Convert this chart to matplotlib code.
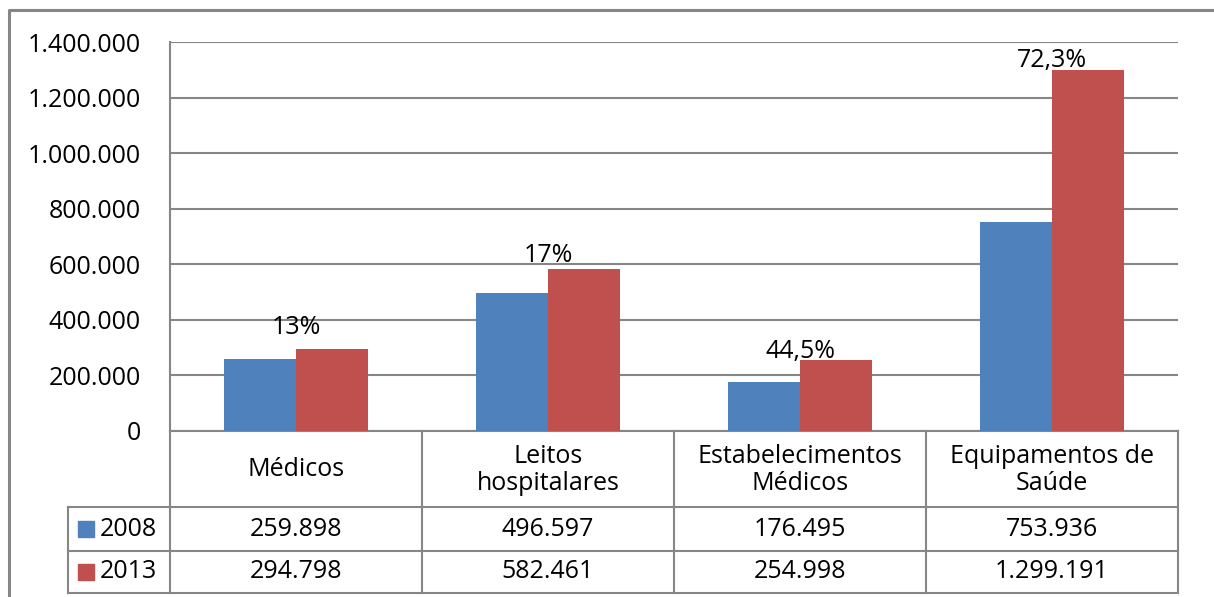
import matplotlib
matplotlib.use("Agg")
import matplotlib.pyplot as plt
from matplotlib.lines import Line2D
from matplotlib.patches import Rectangle

categories = ["Médicos", "Leitos\nhospitalares", "Estabelecimentos\nMédicos", "Equipamentos de\nSaúde"]
series_names = ["2008", "2013"]
values_2008 = [259898, 496597, 176495, 753936]
values_2013 = [294798, 582461, 254998, 1299191]
table_2008 = ["259.898", "496.597", "176.495", "753.936"]
table_2013 = ["294.798", "582.461", "254.998", "1.299.191"]
growth_labels = ["13%", "17%", "44,5%", "72,3%"]
yticks = [0, 200000, 400000, 600000, 800000, 1000000, 1200000, 1400000]
ytick_labels = ["0", "200.000", "400.000", "600.000", "800.000", "1.000.000", "1.200.000", "1.400.000"]

# layout: gap (pixels) between each growth label baseline and its bar top
label_gaps_px = [15, 7, 2, 3]

BLUE = "#4F81BD"
RED = "#C0504D"
GRID = "#868686"
FONT = "Open Sans"
FS = 18

W, H = 1214, 597
fig = plt.figure(figsize=(W / 100, H / 100), dpi=100)

bg = fig.add_axes([0, 0, 1, 1], zorder=0)
bg.set_xlim(0, W)
bg.set_ylim(H, 0)
bg.axis("off")

bg.add_line(Line2D([9, 9, W + 5], [H + 5, 10, 10], color=GRID, lw=2.2))

px0, px1 = 170, 1178
py_top, py0 = 42, 431

ax = fig.add_axes([px0 / W, (H - py0) / H, (px1 - px0) / W, (py0 - py_top) / H], zorder=1)
ax.patch.set_alpha(0)
n = len(categories)
xs = list(range(n))
bw = 72 / 252
ax.bar([x - bw / 2 for x in xs], values_2008, width=bw, color=BLUE, zorder=3)
ax.bar([x + bw / 2 for x in xs], values_2013, width=bw, color=RED, zorder=3)
ax.set_xlim(-0.5, n - 0.5)
ax.set_ylim(0, 1400000)
ax.set_yticks(yticks)
ax.set_yticklabels(ytick_labels, fontsize=FS, family=FONT)
ax.tick_params(axis="y", length=0, pad=21)
ax.set_xticks([])
for s in ["top", "right", "bottom"]:
    ax.spines[s].set_visible(False)
ax.spines["left"].set_color(GRID)
ax.spines["left"].set_linewidth(1.5)
ax.yaxis.grid(True, color=GRID, lw=1.5, zorder=0)
ax.set_axisbelow(True)

for x, v, t, g in zip(xs, values_2013, growth_labels, label_gaps_px):
    ax.annotate(t, (x, v), xytext=(0, g * 0.72), textcoords="offset points",
                ha="center", va="baseline", fontsize=FS, family=FONT, color="black", zorder=4)

col_edges = [px0 + i * (px1 - px0) / n for i in range(n + 1)]
tx0 = 68
row_y = [431, 507, 551, 593]
lc = GRID
lw = 1.5
bg.add_line(Line2D([px0, px1], [row_y[0], row_y[0]], color=lc, lw=lw))
for ry in row_y[1:]:
    bg.add_line(Line2D([tx0, px1], [ry, ry], color=lc, lw=lw))
bg.add_line(Line2D([tx0, tx0], [row_y[1], row_y[3]], color=lc, lw=lw))
for xe in col_edges:
    bg.add_line(Line2D([xe, xe], [row_y[0], row_y[3]], color=lc, lw=lw))

for i, c in enumerate(categories):
    cx = (col_edges[i] + col_edges[i + 1]) / 2
    bg.text(cx, (row_y[0] + row_y[1]) / 2 + 1, c, ha="center", va="center",
            fontsize=FS, family=FONT, linespacing=1.15)
    bg.text(cx, (row_y[1] + row_y[2]) / 2, table_2008[i], ha="center", va="center",
            fontsize=FS, family=FONT)
    bg.text(cx, (row_y[2] + row_y[3]) / 2, table_2013[i], ha="center", va="center",
            fontsize=FS, family=FONT)

for r, (name, col) in enumerate(zip(series_names, [BLUE, RED])):
    yc = (row_y[1 + r] + row_y[2 + r]) / 2
    bg.add_patch(Rectangle((78, yc - 8), 16, 16, color=col))
    bg.text(100, yc, name, ha="left", va="center", fontsize=FS, family=FONT)

fig.savefig("out.png", dpi=100)
